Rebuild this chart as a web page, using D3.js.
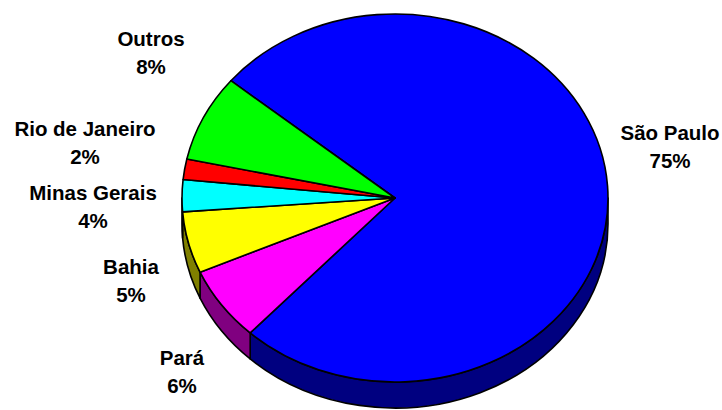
<!DOCTYPE html>
<html>
<head>
<meta charset="utf-8">
<script src="https://cdn.jsdelivr.net/npm/d3@7/dist/d3.min.js"></script>
<style>
  html, body { margin: 0; padding: 0; background: #fff; }
  svg { display: block; }
  text { font-family: "Liberation Sans", Arial, sans-serif; font-weight: bold; font-size: 20.5px; fill: #000; }
</style>
</head>
<body>
<svg id="chart" width="722" height="410"></svg>
<script>
// ---- data ----
const categories = ["São Paulo", "Pará", "Bahia", "Minas Gerais", "Rio de Janeiro", "Outros"];
const values = [75.9, 6.5, 5.4, 2.8, 1.8, 7.6];
const percentLabels = ["75%", "6%", "5%", "4%", "2%", "8%"];

// ---- styles ----
const topColors  = ["#0000FF", "#FF00FF", "#FFFF00", "#00FFFF", "#FF0000", "#00FF00"];
const sideColors = ["#000080", "#800080", "#808000", "#008080", "#800000", "#008000"];

// ---- layout ----
const cx = 395, cy = 198, rx = 213, ry = 184, depth = 26;
const startDeg = 309.6;
const labelPos = [[670, 133], [182, 358], [131, 267], [93, 193], [85, 129], [151, 39]];
const lineGap = 28;

const svg = d3.select("#chart");
const pie = d3.pie().sort(null)
  .startAngle(startDeg * Math.PI / 180)
  .endAngle(startDeg * Math.PI / 180 + 2 * Math.PI);
const arcs = pie(values);

function pt(a, dy) {
  return [cx + rx * Math.sin(a), cy - ry * Math.cos(a) + (dy || 0)];
}

function topPath(d) {
  const p0 = pt(d.startAngle), p1 = pt(d.endAngle);
  const large = (d.endAngle - d.startAngle) > Math.PI ? 1 : 0;
  return `M${cx},${cy}L${p0[0]},${p0[1]}A${rx},${ry} 0 ${large} 1 ${p1[0]},${p1[1]}Z`;
}

function sideSegments(d) {
  const segs = [];
  for (let k = -1; k <= 2; k++) {
    const lo = Math.PI / 2 + 2 * Math.PI * k, hi = 3 * Math.PI / 2 + 2 * Math.PI * k;
    const s = Math.max(lo, d.startAngle), e = Math.min(hi, d.endAngle);
    if (e > s) segs.push([s, e]);
  }
  return segs;
}

function sidePath(s, e) {
  const a = pt(s), b = pt(e), c = pt(e, depth), f = pt(s, depth);
  return `M${a[0]},${a[1]}A${rx},${ry} 0 0 1 ${b[0]},${b[1]}L${c[0]},${c[1]}A${rx},${ry} 0 0 0 ${f[0]},${f[1]}Z`;
}

// sides
const sides = [];
arcs.forEach((d, i) => sideSegments(d).forEach(seg => sides.push({ i, seg })));
svg.append("g").selectAll("path").data(sides).join("path")
  .attr("d", d => sidePath(d.seg[0], d.seg[1]))
  .attr("fill", d => sideColors[d.i])
  .attr("stroke", "#000").attr("stroke-width", 1.6).attr("stroke-linejoin", "round");

// tops
svg.append("g").selectAll("path").data(arcs).join("path")
  .attr("d", topPath)
  .attr("fill", (d, i) => topColors[i])
  .attr("stroke", "#000").attr("stroke-width", 1.6).attr("stroke-linejoin", "round");

// labels
const lg = svg.append("g").selectAll("text").data(categories).join("text")
  .attr("text-anchor", "middle")
  .attr("transform", (d, i) => `translate(${labelPos[i][0]},${labelPos[i][1]})`);
lg.append("tspan").attr("x", 0).attr("dy", "0.35em").text(d => d);
lg.append("tspan").attr("x", 0).attr("dy", lineGap).text((d, i) => percentLabels[i]);
</script>
</body>
</html>
